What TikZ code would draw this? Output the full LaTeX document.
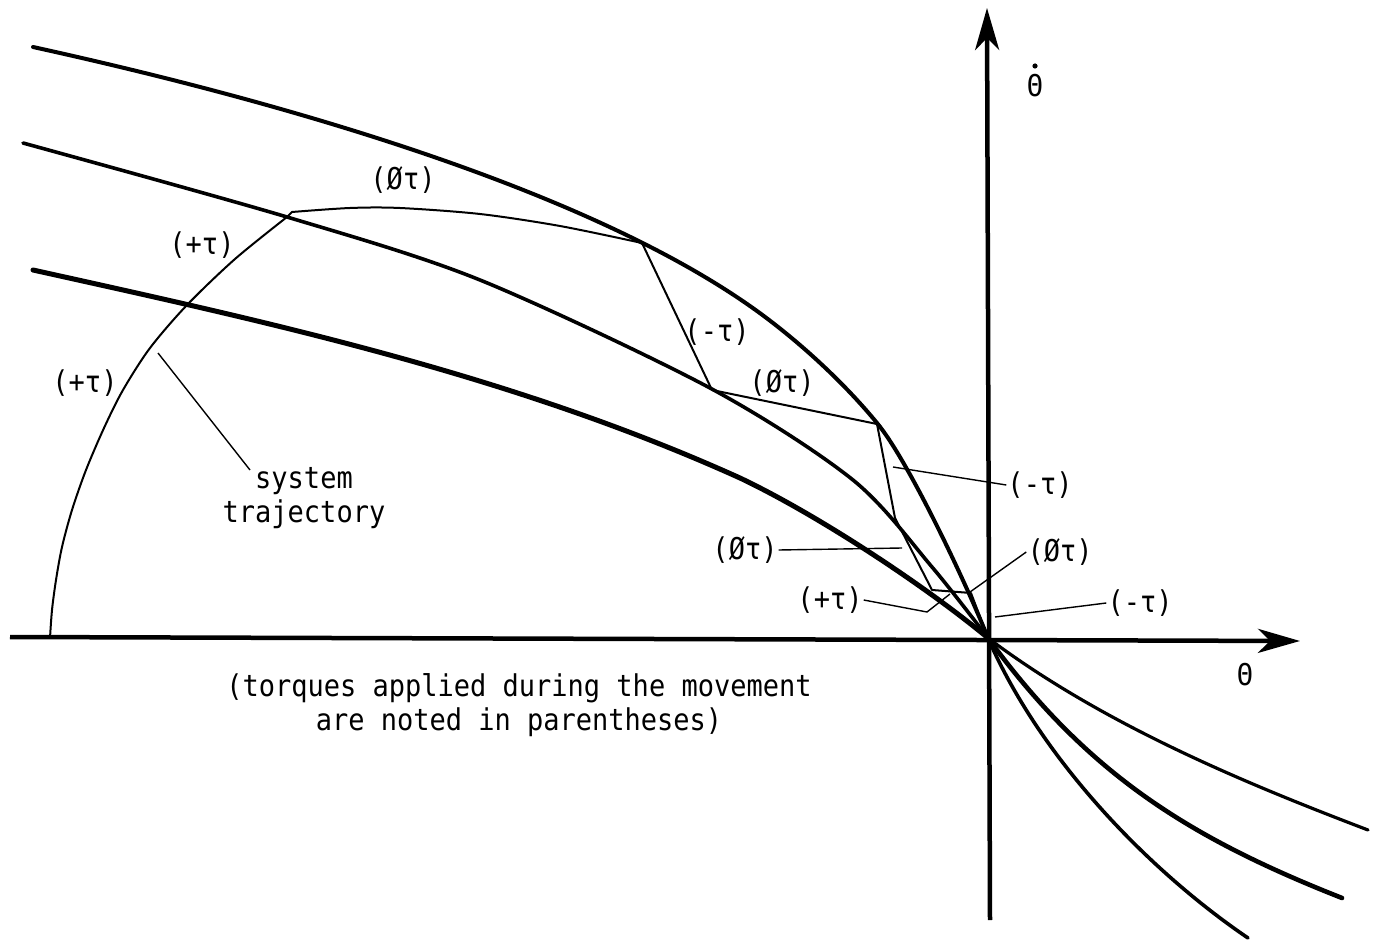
\documentclass[tikz,border=0pt]{standalone}
\usepackage{fontspec}
\newfontfamily\tw[FakeStretch=0.9]{DejaVu Sans Mono}
\usetikzlibrary{arrows.meta}
\begin{document}
\begin{tikzpicture}[x=1pt,y=-1pt,
  axis/.style={line width=4.5pt,-{Stealth[length=42pt,width=24pt,inset=12pt]}},
  curveA/.style={line width=4pt,line cap=round},
  curveB/.style={line width=3.6pt,line cap=round},
  curveC/.style={line width=5pt,line cap=round},
  traj/.style={line width=2pt,line join=round},
  leader/.style={line width=1.4pt},
  lbl/.style={font=\tw\fontsize{30}{34}\selectfont,inner sep=1pt},
]
\useasboundingbox[fill=white] (0,0) rectangle (1382,941);

% axes
\coordinate (O) at (988,638);
\coordinate (xL) at (10,637);
\coordinate (xR) at (1300,641);
\coordinate (yB) at (990,920);
\coordinate (yT) at (987,8);
\draw[axis] (xL) -- (xR);
\draw[axis] (yB) -- (yT);

% switching curves, upper-left halves
\draw[curveA] (33,47) .. controls (233,91) and (593,183) .. (773,323)
  .. controls (813,354) and (850,390) .. (877,423)
  .. controls (907,459) and (963,576) .. (O);
\draw[curveB] plot[smooth] coordinates {(23,143) (287,217) (480,280) (710,388) (853,480) (932,567) (O)};
\draw[curveC] (33,270) .. controls (263,321) and (510,374) .. (740,478)
  .. controls (820,516) and (928,588) .. (O);
% lower-right halves
\draw[line width=3.6pt,line cap=round] (O) .. controls (1040,758) and (1148,870) .. (1248,938);
\draw[line width=4.6pt,line cap=round] (O) .. controls (1088,775) and (1190,838) .. (1342,898);
\draw[line width=3.2pt,line cap=round] (O) .. controls (1105,726) and (1250,785) .. (1368,830);

% system trajectory
\draw[traj] plot[smooth] coordinates {(50,638) (52,610) (56,580) (62,547) (72,510) (86,470) (104,428) (123,390) (150,348) (187,305) (235,259) (287,217)}
  -- plot[smooth] coordinates {(292,212) (350,208) (400,208) (480,214) (560,226) (642,243)}
  -- (712,390) -- (877,424) -- (895,518) -- (932,590) -- (971,593) -- (O);

% labels
\node[lbl] (l1) at (403,180) {(Øτ)};
\node[lbl] (l2) at (202,245) {(+τ)};
\node[lbl] (l3) at (85,383) {(+τ)};
\node[lbl] (l4) at (717,332) {(-τ)};
\node[lbl] (l5) at (782,383) {(Øτ)};
\node[lbl] (l6) at (1040,485) {(-τ)};
\node[lbl] (l7) at (745,550) {(Øτ)};
\node[lbl] (l8) at (1060,552) {(Øτ)};
\node[lbl] (l9) at (830,600) {(+τ)};
\node[lbl] (l10) at (1140,603) {(-τ)};
\node[lbl,align=center] (st) at (304,498) {system\\trajectory};
\node[lbl,align=center] (cap) at (519,705) {(torques applied during the movement\\are noted in parentheses)};
\node[lbl] (th) at (1245,675) {Θ};
\node[lbl] (thd) at (1035,86) {Θ};
\fill (1035,66) circle (2.6);

% leaders
\coordinate (cst) at (158,353);
\coordinate (stA) at (250,470);
\coordinate (c6) at (893,467);
\coordinate (c7) at (902,548);
\coordinate (c9a) at (927,612);
\coordinate (c9b) at (950,594);
\coordinate (c8) at (970,592);
\coordinate (c10) at (995,617);
\draw[leader] (stA) -- (cst);
\draw[leader] (l6.west) -- (c6);
\draw[leader] (l7.east) -- (c7);
\draw[leader] (l9.east) -- (c9a) -- (c9b);
\draw[leader] (l8.west) -- (c8);
\draw[leader] (l10.west) -- (c10);
\end{tikzpicture}
\end{document}
